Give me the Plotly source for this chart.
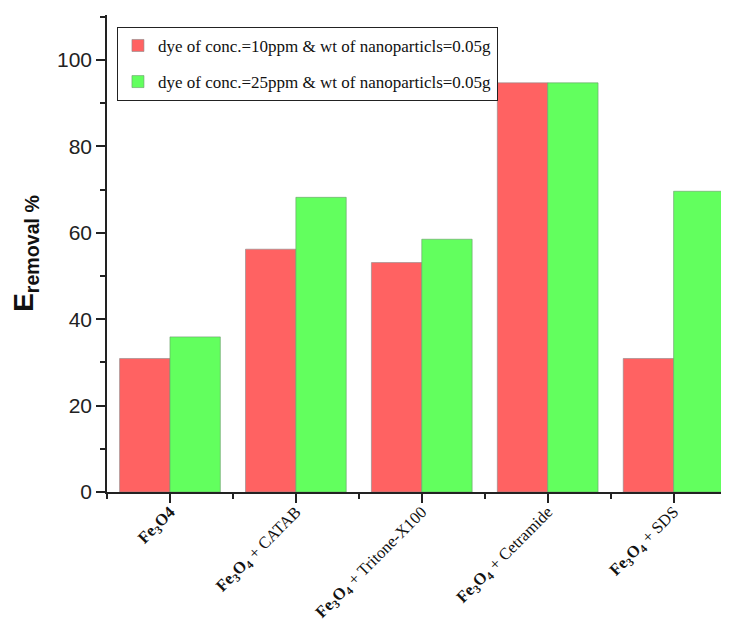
import plotly.graph_objects as go

categories = ["Fe3O4", "Fe3O4 + CATAB", "Fe3O4 + Tritone-X100", "Fe3O4 + Cetramide", "Fe3O4 + SDS"]
tick_labels = [
    "<b>Fe<sub>3</sub>O4</b>",
    "<b>Fe<sub>3</sub>O<sub>4</sub></b> + CATAB",
    "<b>Fe<sub>3</sub>O<sub>4</sub></b> + Tritone-X100",
    "<b>Fe<sub>3</sub>O<sub>4</sub></b> + Cetramide",
    "<b>Fe<sub>3</sub>O<sub>4</sub></b> + SDS",
]
series1_name = "dye of conc.=10ppm & wt of nanoparticls=0.05g"
series2_name = "dye of conc.=25ppm & wt of nanoparticls=0.05g"
series1 = [30.9, 56.2, 53.1, 94.7, 30.9]
series2 = [35.9, 68.2, 58.5, 94.7, 69.6]

xpos = list(range(len(categories)))

fig = go.Figure()
fig.add_bar(x=xpos, y=series1, name=series1_name, legendgroup="a",
            marker=dict(color="#FF6262", line=dict(color="#8a8a8a", width=0.6)))
fig.add_bar(x=xpos, y=series2, name=series2_name, legendgroup="b",
            marker=dict(color="#62FF5E", line=dict(color="#6a9a6a", width=0.6)))

# page body has an 8px default margin; figure is sized to fill the 729x621 window
fig.update_layout(
    width=721, height=613,
    margin=dict(l=99, r=0, t=7, b=129),
    plot_bgcolor="white", paper_bgcolor="white",
    barmode="group", bargap=0.2, bargroupgap=0,
    showlegend=True,
    legend=dict(x=0.016, y=0.975, xanchor="left", yanchor="top",
                bgcolor="white", bordercolor="#222", borderwidth=1,
                font=dict(family="Liberation Serif, Times New Roman, serif", size=17, color="#111"),
                traceorder="grouped", tracegroupgap=11, itemwidth=30),
    xaxis=dict(range=[-0.5, 4.44], tickvals=xpos, ticktext=tick_labels, tickangle=-45,
               automargin=False, ticklabelstandoff=-7,
               showline=True, linecolor="#222", linewidth=1.5, showgrid=False, zeroline=False,
               ticks="outside", ticklen=9, tickwidth=1.5, tickcolor="#222",
               tickfont=dict(family="Liberation Serif, Times New Roman, serif", size=16.5, color="#111"),
               minor=dict(tickvals=[-0.5, 0.5, 1.5, 2.5, 3.5], ticks="outside", ticklen=5,
                          tickwidth=1.5, tickcolor="#222")),
    yaxis=dict(range=[0, 110.4], dtick=20, showline=True, linecolor="#222", linewidth=1.5,
               automargin=False,
               showgrid=False, zeroline=False, ticks="outside", ticklen=9, tickwidth=1.5,
               tickcolor="#222",
               tickfont=dict(family="Liberation Sans, Arial, sans-serif", size=21, color="#222"),
               minor=dict(dtick=10, ticks="outside", ticklen=5, tickwidth=1.5, tickcolor="#222"),
               title=dict(text="<b>E</b><sub><b>removal %</b></sub>", standoff=26,
                          font=dict(family="Liberation Sans, Arial, sans-serif", size=28, color="#111"))),
)

fig.write_html("out.html")
